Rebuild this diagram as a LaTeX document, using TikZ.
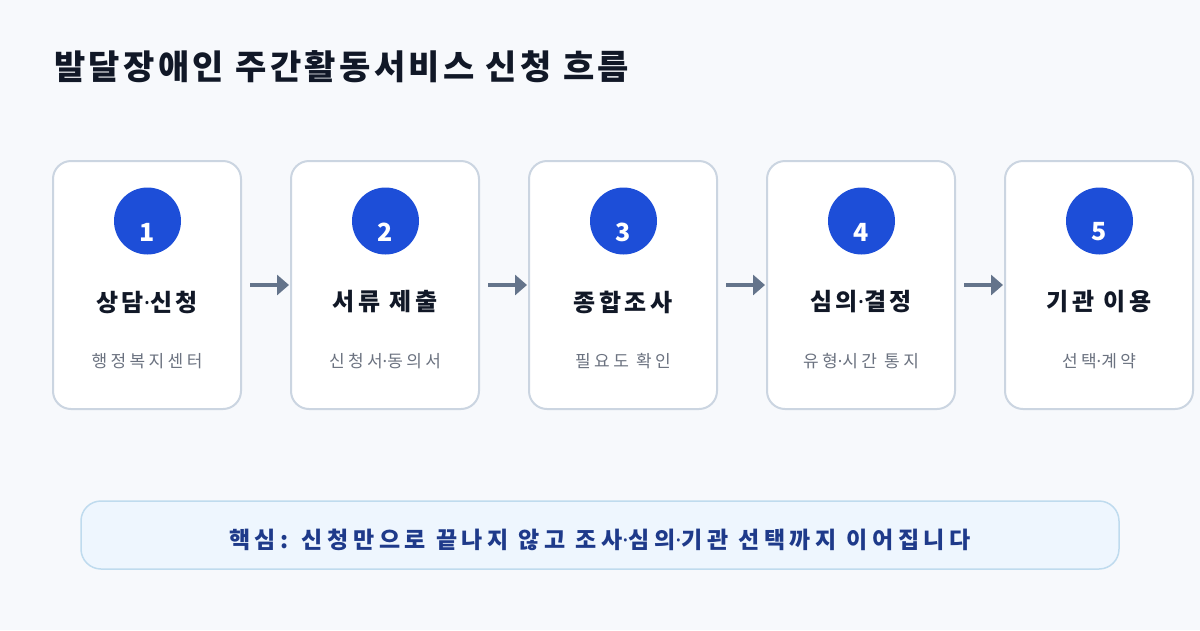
\documentclass[tikz,border=0pt]{standalone}
\usepackage{fontspec}
\setmainfont{Noto Sans CJK KR}
\newfontfamily\titlefont[LetterSpace=10]{Noto Sans CJK KR}
\newfontfamily\stepfont[LetterSpace=15]{Noto Sans CJK KR}
\newfontfamily\subfont[LetterSpace=20]{Noto Sans CJK KR}
\newfontfamily\notefont[LetterSpace=20]{Noto Sans CJK KR}
\newfontfamily\latinf{Noto Sans}
\newcommand{\mdot}{{\latinf ·}}
\usetikzlibrary{arrows.meta}
\definecolor{bg}{HTML}{F7F9FC}
\definecolor{boxborder}{HTML}{CBD5E1}
\definecolor{circ}{HTML}{1D4ED8}
\definecolor{titlec}{HTML}{111827}
\definecolor{subc}{HTML}{6B7280}
\definecolor{arrowc}{HTML}{64748B}
\definecolor{notefill}{HTML}{EEF6FE}
\definecolor{noteborder}{HTML}{BFDBEE}
\definecolor{notetext}{HTML}{1E3A8A}
\tikzset{
  stepbox/.style={draw=boxborder, line width=2pt, fill=white, rounded corners=18pt, minimum width=188pt, minimum height=248pt, inner sep=0pt},
  numcirc/.style={circle, fill=circ, minimum size=67pt, inner sep=0pt},
  numtext/.style={text=white, font=\fontsize{25}{25}\selectfont\bfseries, inner sep=0pt},
  steptitle/.style={font=\stepfont\fontsize{24}{27}\selectfont\bfseries, text=titlec, inner sep=0pt},
  stepsub/.style={font=\subfont\fontsize{17}{20}\selectfont, text=subc, inner sep=0pt},
  flow/.style={draw=arrowc, line width=4.5pt, -{Triangle[length=12pt,width=20pt]}}
}
\begin{document}
\begin{tikzpicture}[x=1pt,y=-1pt]
\fill[bg] (0,0) rectangle (1200,630);
\useasboundingbox (0,0) rectangle (1200,630);
\node[anchor=west, font=\titlefont\fontsize{34}{38}\selectfont\bfseries, text=titlec, inner sep=0pt] (title) at (54,67) {발달장애인 주간활동서비스 신청 흐름};
\foreach \i/\t/\s in {1/상담\mdot 신청/행정복지센터, 2/서류 제출/신청서\mdot 동의서, 3/종합조사/필요도 확인, 4/심의\mdot 결정/유형\mdot 시간 통지, 5/기관 이용/선택\mdot 계약}{
  \pgfmathsetmacro{\cx}{147+238*(\i-1)}
  \node[stepbox] (b\i) at (\cx,285) {};
  \node[numcirc] (c\i) at (\cx+0.5,221) {};
  \node[numtext] (n\i) at (\cx,232) {\i};
  \node[steptitle] (t\i) at (\cx,302) {\t};
  \node[stepsub] (s\i) at (\cx,361) {\s};
}
\foreach \a/\b in {1/2,2/3,3/4,4/5}{
  \draw[flow] ([xshift=8pt]b\a.east) -- ([xshift=-1pt]b\b.west);
}
\node[draw=noteborder, line width=1.5pt, fill=notefill, rounded corners=20pt, minimum width=1038pt, minimum height=68pt, inner sep=0pt] (note) at (600,535) {};
\node[font=\notefont\fontsize{23}{26}\selectfont\bfseries, text=notetext, inner sep=0pt] (notetxt) at (600,540) {핵심: 신청만으로 끝나지 않고 조사\mdot 심의\mdot 기관 선택까지 이어집니다};
\end{tikzpicture}
\end{document}
